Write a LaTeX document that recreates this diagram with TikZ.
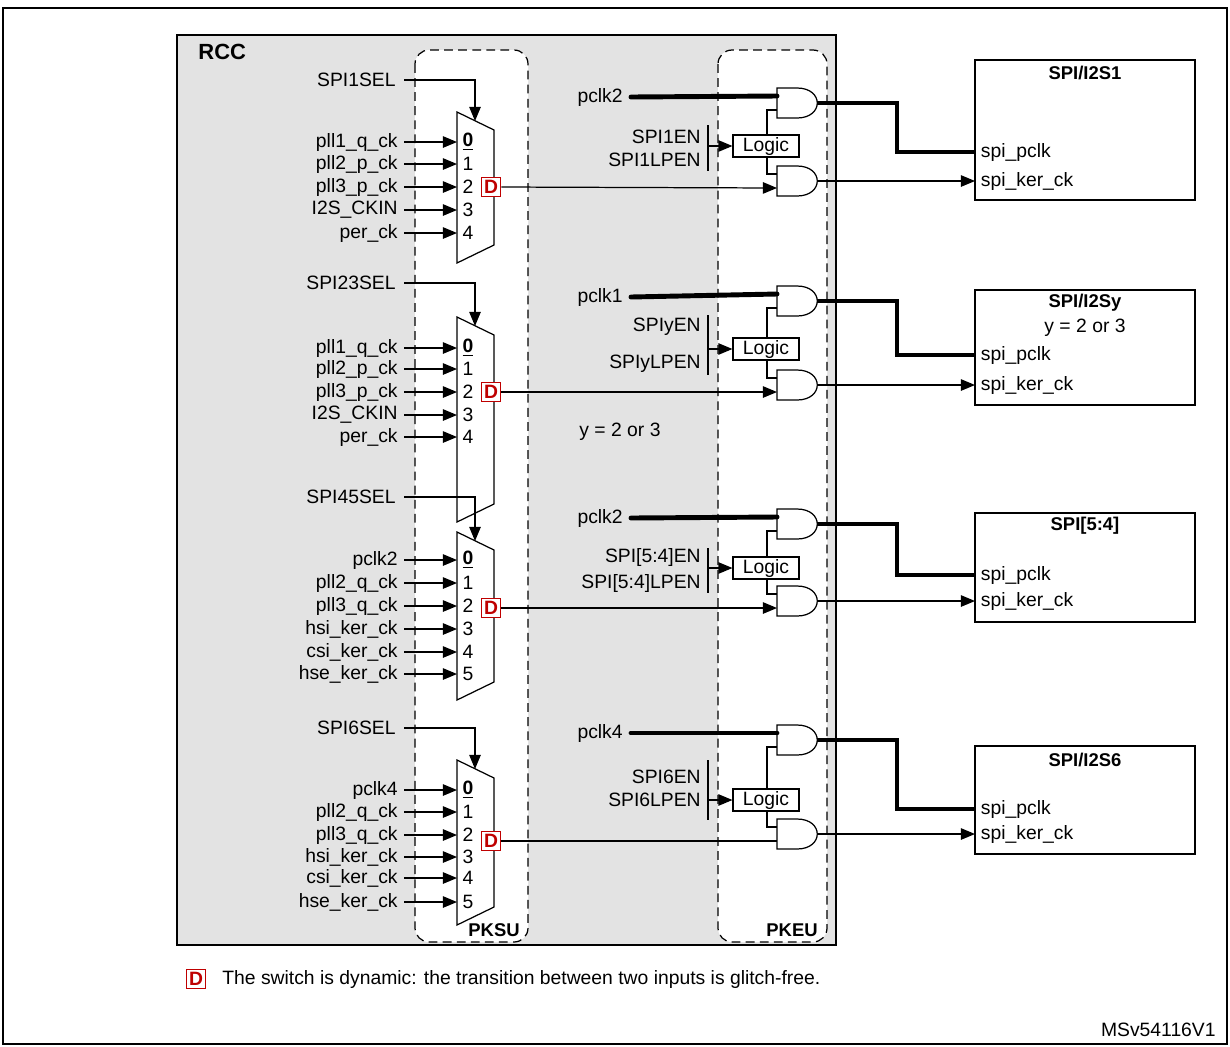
\documentclass[tikz,border=0pt]{standalone}
\usepackage{fontspec}
\setmainfont{Liberation Sans}
\usetikzlibrary{arrows.meta}

\tikzset{
  lbl/.style={font=\fontsize{11}{13}\selectfont, inner sep=1pt},
  ttl/.style={font=\bfseries\fontsize{10.5}{12}\selectfont, inner sep=1pt},
  sig/.style={-{Triangle[length=8pt,width=6.5pt]}},
  bus/.style={line width=2.8pt},
  dbox/.style={draw=red!75!black, text=red!75!black, fill=white,
    font=\bfseries\fontsize{11}{12}\selectfont, inner sep=0.5pt, minimum size=11pt},
  logic/.style={draw, fill=white, lbl, minimum width=37.5pt, minimum height=12.5pt},
  pku/.style={rounded corners=8pt, dash pattern=on 5pt off 3pt}
}

% mux: name, top y, bottom y
\newcommand{\mux}[3]{%
  \draw[fill=white] (457,#2) -- (494,#2+18) -- (494,#3-18) -- (457,#3) -- cycle;
  \coordinate (#1-s) at (475,#2+9);}
% and gate: name, centre y
\newcommand{\andgate}[2]{%
  \draw[fill=white] (777,#2-15) -- (797,#2-15) .. controls (824,#2-15) and (824,#2+15) .. (797,#2+15) -- (777,#2+15) -- cycle;
  \coordinate (#1-i) at (777,#2-7);
  \coordinate (#1-j) at (777,#2+7);
  \coordinate (#1-o) at (817,#2);}

\begin{document}
\begin{tikzpicture}[x=0.02cm, y=-0.02cm, line width=0.7pt]
    \useasboundingbox (0,0) rectangle (1230,1046);
    \draw[line width=1.2pt] (3,8) -- (1227,8);
    \draw (3,8) rectangle (1227,1044);

    % RCC and the two dashed units
    \draw[line width=1.2pt, fill=black!11] (177,35) rectangle (836,945);
    \fill[white, pku] (415,50) rectangle (528,942);
    \fill[white, pku] (718,50) rectangle (827,942);
    \draw[pku] (415,50) rectangle (528,942);
    \draw[pku] (718,50) rectangle (827,942);
    \node[font=\bfseries\fontsize{12.5}{14}\selectfont, anchor=west] (rcc) at (192,52) {RCC};
    \node[ttl, anchor=east] (pksu) at (522,930) {PKSU};
    \node[ttl, anchor=east] (pkeu) at (820,930) {PKEU};

    % SPI1
    \mux{m1}{112}{263}
    \node[lbl, anchor=east] (sel1) at (398,80) {SPI1SEL};
    \draw[sig] (sel1.east) ++(6,0) -| (m1-s);
    \foreach \y/\t/\n [count=\k] in {142/pll1\_q\_ck/{\underline{\textbf{0}}}, 164/pll2\_p\_ck/1,
        187/pll3\_p\_ck/2, 210/I2S\_CKIN/3, 233/per\_ck/4} {
      \node[lbl, anchor=east] (a\k) at (400,\y) {\t};
      \node[lbl] (na\k) at (468,\y) {\n};
      \draw[sig] (a\k.east) ++(4,0) -- (457,\y);
    }
    \node[dbox] (d1) at (491,187) {D};
    \andgate{g1a}{103}
    \andgate{g1b}{181}
    \node[logic] (l1) at (766,146) {Logic};
    \node[lbl, anchor=east] (ck1) at (625,97) {pclk2};
    \draw[bus, line cap=round] (ck1.east) ++(6,0) -- (g1a-i);
    \node[lbl, anchor=east] (en1) at (703,137) {SPI1EN};
    \node[lbl, anchor=east] (lp1) at (703,160) {SPI1LPEN};
    \draw (708,125) -- (708,171);
    \draw[sig] (708,146) -- (l1.west);
    \draw (l1.north -| 767,0) |- (g1a-j);
    \draw (l1.south -| 767,0) |- (g1b-i);
    \draw[sig] (d1.east) -- (g1b-j);
    \draw (975,60) rectangle (1195,200);
    \node[ttl] (t1) at (1085,73) {SPI/I2S1};
    \node[lbl, anchor=west, inner sep=3pt] (p1) at (975,152) {spi\_pclk};
    \node[lbl, anchor=west, inner sep=3pt] (k1) at (975,181) {spi\_ker\_ck};
    \draw[bus] (g1a-o) -- (897,103) |- (p1.west);
    \draw[sig] (g1b-o) -- (k1.west);

    % SPI2/3
    \mux{m2}{317}{522}
    \node[lbl, anchor=east] (sel2) at (398,283) {SPI23SEL};
    \draw[sig] (sel2.east) ++(6,0) -| (m2-s);
    \foreach \y/\t/\n [count=\k] in {348/pll1\_q\_ck/{\underline{\textbf{0}}}, 369/pll2\_p\_ck/1,
        392/pll3\_p\_ck/2, 415/I2S\_CKIN/3, 437/per\_ck/4} {
      \node[lbl, anchor=east] (b\k) at (400,\y) {\t};
      \node[lbl] (nb\k) at (468,\y) {\n};
      \draw[sig] (b\k.east) ++(4,0) -- (457,\y);
    }
    \node[dbox] (d2) at (491,392) {D};
    \andgate{g2a}{301}
    \andgate{g2b}{385}
    \node[logic] (l2) at (766,349) {Logic};
    \node[lbl, anchor=east] (ck2) at (625,297) {pclk1};
    \draw[bus, line cap=round] (ck2.east) ++(6,0) -- (g2a-i);
    \node[lbl, anchor=east] (en2) at (703,327) {SPIyEN};
    \node[lbl, anchor=east] (lp2) at (703,364) {SPIyLPEN};
    \draw (708,315) -- (708,375);
    \draw[sig] (708,349) -- (l2.west);
    \draw (l2.north -| 767,0) |- (g2a-j);
    \draw (l2.south -| 767,0) |- (g2b-i);
    \draw[sig] (d2.east) -- (g2b-j);
    \node[lbl] (y2) at (620,432) {y = 2 or 3};
    \draw (975,290) rectangle (1195,405);
    \node[ttl] (t2) at (1085,303) {SPI/I2Sy};
    \node[lbl] (t2y) at (1085,328) {y = 2 or 3};
    \node[lbl, anchor=west, inner sep=3pt] (p2) at (975,355) {spi\_pclk};
    \node[lbl, anchor=west, inner sep=3pt] (k2) at (975,385) {spi\_ker\_ck};
    \draw[bus] (g2a-o) -- (897,301) |- (p2.west);
    \draw[sig] (g2b-o) -- (k2.west);

    % SPI4/5
    \mux{m3}{532}{700}
    \node[lbl, anchor=east] (sel3) at (398,497) {SPI45SEL};
    \draw[sig] (sel3.east) ++(6,0) -| (m3-s);
    \foreach \y/\t/\n [count=\k] in {560/pclk2/{\underline{\textbf{0}}}, 583/pll2\_q\_ck/1,
        606/pll3\_q\_ck/2, 629/hsi\_ker\_ck/3, 652/csi\_ker\_ck/4, 674/hse\_ker\_ck/5} {
      \node[lbl, anchor=east] (c\k) at (400,\y) {\t};
      \node[lbl] (nc\k) at (468,\y) {\n};
      \draw[sig] (c\k.east) ++(4,0) -- (457,\y);
    }
    \node[dbox] (d3) at (491,608) {D};
    \andgate{g3a}{524}
    \andgate{g3b}{601}
    \node[logic] (l3) at (766,568) {Logic};
    \node[lbl, anchor=east] (ck3) at (625,518) {pclk2};
    \draw[bus, line cap=round] (ck3.east) ++(6,0) -- (g3a-i);
    \node[lbl, anchor=east] (en3) at (703,557) {SPI[5:4]EN};
    \node[lbl, anchor=east] (lp3) at (703,583) {SPI[5:4]LPEN};
    \draw (708,548) -- (708,593);
    \draw[sig] (708,568) -- (l3.west);
    \draw (l3.north -| 767,0) |- (g3a-j);
    \draw (l3.south -| 767,0) |- (g3b-i);
    \draw[sig] (d3.east) -- (g3b-j);
    \draw (975,513) rectangle (1195,622);
    \node[ttl] (t3) at (1085,526) {SPI[5:4]};
    \node[lbl, anchor=west, inner sep=3pt] (p3) at (975,575) {spi\_pclk};
    \node[lbl, anchor=west, inner sep=3pt] (k3) at (975,601) {spi\_ker\_ck};
    \draw[bus] (g3a-o) -- (897,524) |- (p3.west);
    \draw[sig] (g3b-o) -- (k3.west);

    % SPI6
    \mux{m4}{760}{925}
    \node[lbl, anchor=east] (sel4) at (398,728) {SPI6SEL};
    \draw[sig] (sel4.east) ++(6,0) -| (m4-s);
    \foreach \y/\t/\n [count=\k] in {790/pclk4/{\underline{\textbf{0}}}, 812/pll2\_q\_ck/1,
        835/pll3\_q\_ck/2, 857/hsi\_ker\_ck/3, 878/csi\_ker\_ck/4, 902/hse\_ker\_ck/5} {
      \node[lbl, anchor=east] (e\k) at (400,\y) {\t};
      \node[lbl] (ne\k) at (468,\y) {\n};
      \draw[sig] (e\k.east) ++(4,0) -- (457,\y);
    }
    \node[dbox] (d4) at (491,841) {D};
    \andgate{g4a}{740}
    \andgate{g4b}{834}
    \node[logic] (l4) at (766,800) {Logic};
    \node[lbl, anchor=east] (ck4) at (625,733) {pclk4};
    \draw[bus, line cap=round] (ck4.east) ++(6,0) -- (g4a-i);
    \node[lbl, anchor=east] (en4) at (703,777) {SPI6EN};
    \node[lbl, anchor=east] (lp4) at (703,800) {SPI6LPEN};
    \draw (708,760) -- (708,820);
    \draw[sig] (708,800) -- (l4.west);
    \draw (l4.north -| 767,0) |- (g4a-j);
    \draw (l4.south -| 767,0) |- (g4b-i);
    \draw (d4.east) -- (g4b-j);
    \draw (975,746) rectangle (1195,854);
    \node[ttl] (t4) at (1085,760) {SPI/I2S6};
    \node[lbl, anchor=west, inner sep=3pt] (p4) at (975,809) {spi\_pclk};
    \node[lbl, anchor=west, inner sep=3pt] (k4) at (975,834) {spi\_ker\_ck};
    \draw[bus] (g4a-o) -- (897,740) |- (p4.west);
    \draw[sig] (g4b-o) -- (k4.west);

    % note
    \node[dbox] (dn) at (196,979) {D};
    \node[lbl, anchor=west] (note) at (220,979) {The switch is dynamic: the transition between two inputs is glitch-free.};
    \node[lbl, anchor=east] (ref) at (1218,1030) {MSv54116V1};
\end{tikzpicture}
\end{document}
